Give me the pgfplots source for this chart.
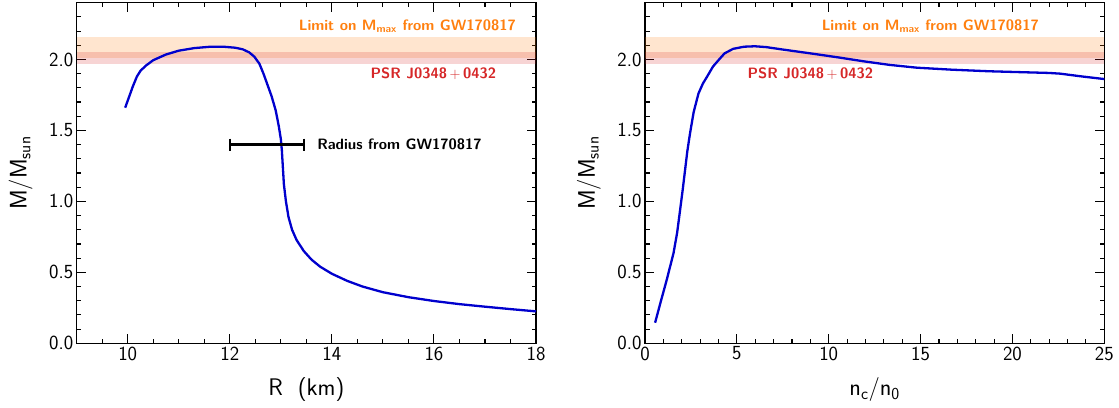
\documentclass[border=0pt]{standalone}
\usepackage{pgfplots}
\pgfplotsset{compat=1.18}

\definecolor{taborange}{RGB}{255,127,14}
\definecolor{tabred}{RGB}{214,39,40}
\definecolor{curveblue}{RGB}{0,0,205}

\tikzset{annot/.style={font=\fontsize{15}{15}\selectfont\sffamily\bfseries}}

\pgfplotsset{
  mrstyle/.style={
    scale only axis,
    width=459.3pt, height=340.6pt,
    ymin=0, ymax=2.4,
    ytick={0,0.5,...,2.0},
    minor ytick={0,0.1,...,2.41},
    tick align=inside,
    major tick length=9.3pt,
    minor tick length=4.5pt,
    axis line style={line width=1.2pt},
    every tick/.style={black, line width=1.1pt},
    tick label style={font=\fontsize{20}{20}\selectfont\sffamily},
    /pgf/number format/assume math mode=true,
    yticklabel style={/pgf/number format/.cd, fixed, fixed zerofill, precision=1},
    label style={font=\fontsize{24}{24}\selectfont\sffamily},
    ylabel={M/M\textsubscript{sun}},
    y label style={at={(axis description cs:-0.122,0.5)}, anchor=center},
    x label style={at={(axis description cs:0.5,-0.135)}, anchor=center},
    clip=true,
  },
  band/.style={draw=none, fill=#1, fill opacity=0.2, forget plot},
}

\begin{document}
\begin{tikzpicture}
\useasboundingbox (-76.7pt,-63.7pt) rectangle (1042.3pt,343.3pt);

% ---- left: mass-radius ----
\begin{axis}[mrstyle,
  at={(0pt,0pt)}, anchor=south west,
  xmin=9, xmax=18,
  xtick={10,12,...,18},
  minor xtick={9,9.5,...,18},
  xlabel={R~~(km)},
]
  % GW170817 Mmax band
  \addplot[band=taborange] coordinates {(9,2.01) (18,2.01) (18,2.16) (9,2.16)} --cycle;
  % PSR J0348+0432 band
  \addplot[band=tabred] coordinates {(9,1.97) (18,1.97) (18,2.05) (9,2.05)} --cycle;

  \addplot[curveblue, line width=2.3pt] table {
    9.95 1.66
    10.02 1.73
    10.10 1.81
    10.18 1.88
    10.25 1.92
    10.35 1.955
    10.50 1.995
    10.75 2.035
    11.00 2.062
    11.30 2.080
    11.63 2.090
    11.90 2.089
    12.10 2.083
    12.25 2.072
    12.38 2.05
    12.48 2.02
    12.58 1.97
    12.66 1.90
    12.74 1.82
    12.82 1.74
    12.90 1.64
    12.96 1.53
    13.00 1.44
    13.02 1.36
    13.04 1.24
    13.06 1.12
    13.10 1.00
    13.15 0.89
    13.22 0.80
    13.31 0.727
    13.45 0.65
    13.60 0.59
    13.77 0.54
    14.00 0.49
    14.30 0.44
    14.60 0.40
    15.00 0.36
    15.50 0.325
    16.00 0.298
    16.50 0.276
    17.00 0.258
    17.50 0.241
    18.00 0.225
  };

  % radius constraint
  \addplot[black, line width=2.4pt, mark=|, mark size=6pt,
           mark options={line width=2.4pt}] coordinates {(12.0,1.40) (13.45,1.40)};

  \node[annot, text=taborange] at (axis cs:15.48,2.236) {Limit on M\textsubscript{max} from GW170817};
  \node[annot, text=tabred] at (axis cs:15.99,1.897) {PSR J0348\,$+$\,0432};
  \node[annot, anchor=west, inner sep=0pt] at (axis cs:13.71,1.40) {Radius from GW170817};
\end{axis}

% ---- right: mass vs central density ----
\begin{axis}[mrstyle,
  at={(568.3pt,0pt)}, anchor=south west,
  xmin=0, xmax=25,
  xtick={0,5,...,25},
  minor xtick={0,1,...,25},
  xlabel={n\textsubscript{c}/n\textsubscript{0}},
]
  \addplot[band=taborange] coordinates {(0,2.01) (25,2.01) (25,2.16) (0,2.16)} --cycle;
  \addplot[band=tabred] coordinates {(0,1.97) (25,1.97) (25,2.05) (0,2.05)} --cycle;

  \addplot[curveblue, line width=2.3pt] table {
    0.55 0.145
    0.85 0.29
    1.18 0.446
    1.55 0.634
    1.75 0.78
    1.91 0.939
    2.05 1.08
    2.18 1.22
    2.30 1.35
    2.45 1.479
    2.65 1.63
    2.91 1.76
    3.15 1.83
    3.37 1.877
    3.70 1.95
    4.00 1.995
    4.33 2.043
    4.80 2.075
    5.40 2.09
    5.98 2.093
    6.60 2.087
    7.50 2.07
    9.00 2.043
    10.50 2.015
    11.90 1.987
    13.30 1.962
    14.80 1.942
    16.70 1.928
    18.70 1.917
    20.60 1.910
    22.00 1.905
    22.60 1.900
    23.80 1.880
    25.00 1.862
  };

  \node[annot, text=taborange] at (axis cs:15.53,2.236) {Limit on M\textsubscript{max} from GW170817};
  \node[annot, text=tabred] at (axis cs:9.0,1.897) {PSR J0348\,$+$\,0432};
\end{axis}
\end{tikzpicture}
\end{document}
